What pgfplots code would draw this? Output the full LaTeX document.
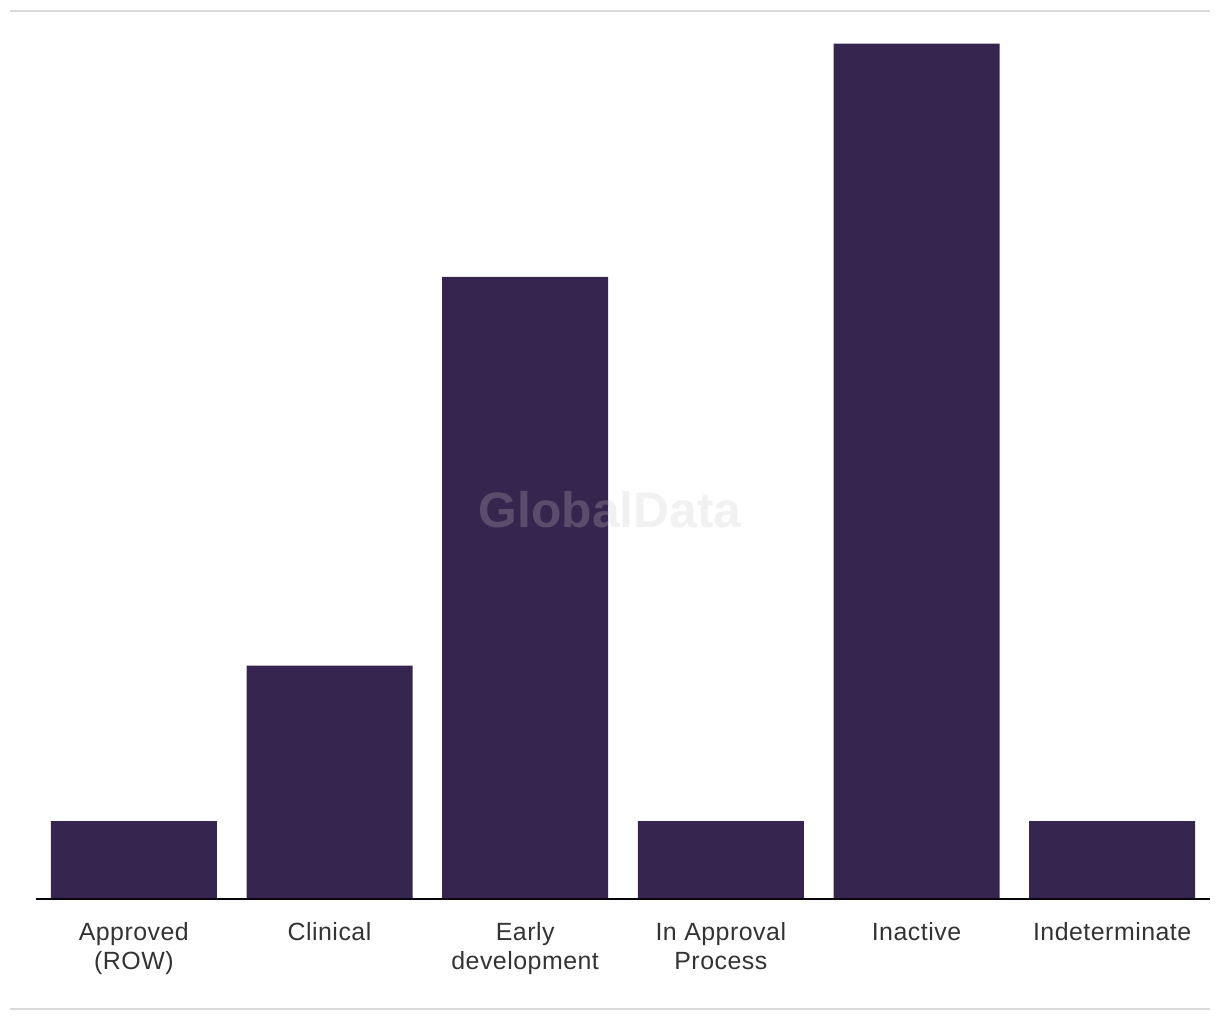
\documentclass[border=0pt]{standalone}
\usepackage{pgfplots}
\pgfplotsset{compat=1.18}
\usepackage{fontspec}
\setmainfont{Liberation Sans}
\newfontfamily\labfont[LetterSpace=2]{Liberation Sans}
\definecolor{barc}{HTML}{36254F}
\definecolor{txt}{HTML}{333333}
\definecolor{rule}{HTML}{DADADA}
\begin{document}
\begin{tikzpicture}
\useasboundingbox (-18bp,-60.5bp) rectangle (592bp,449.5bp);
\begin{axis}[
  at={(0,0)}, anchor=south west,
  scale only axis,
  width=587bp, height=444bp,
  xmin=-0.5, xmax=5.5,
  ymin=0, ymax=11.42,
  axis line style={draw=none},
  axis x line*=bottom,
  axis y line=none,
  ytick=\empty,
  xtick={0,1,2,3,4,5},
  xticklabels={Approved\\(ROW),Clinical,Early\\development,In Approval\\Process,Inactive,Indeterminate},
  x tick label style={align=center, font=\labfont\fontsize{12.5}{15}\selectfont, text=txt, yshift=-8bp},
  major tick length=0pt,
  ybar, bar width=83bp,
  clip=false,
]
\addplot[fill=barc, draw=none] coordinates {(0,1) (1,3) (2,8) (3,1) (4,11) (5,1)};
\draw[line width=1.2bp, color=black!85!barc] (rel axis cs:0,0) -- (rel axis cs:1,0);
\end{axis}
\draw[rule, line width=1.2bp] (-13bp,444bp) -- (587bp,444bp);
\draw[rule, line width=1.2bp] (-13bp,-55bp) -- (587bp,-55bp);
\node[font=\bfseries\fontsize{25}{25}\selectfont, text=gray!45, opacity=0.25] at (287bp,194.5bp) {GlobalData};
\end{tikzpicture}
\end{document}
